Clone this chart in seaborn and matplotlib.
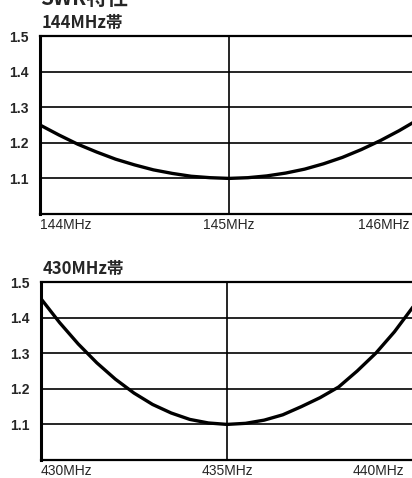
import matplotlib
matplotlib.use("Agg")
import matplotlib.pyplot as plt
import matplotlib.transforms as mtransforms
import seaborn as sns
import pandas as pd

# 144MHz帯
freq_144 = [144.0, 144.1, 144.2, 144.3, 144.4, 144.5, 144.6, 144.7, 144.8, 144.9, 145.0,
            145.1, 145.2, 145.3, 145.4, 145.5, 145.6, 145.7, 145.8, 145.9, 146.0]
swr_144 = [1.25, 1.222, 1.196, 1.174, 1.154, 1.138, 1.124, 1.114, 1.106, 1.102, 1.10,
           1.102, 1.107, 1.115, 1.126, 1.141, 1.159, 1.181, 1.206, 1.234, 1.265]
ticks_144 = [144, 145, 146]
labels_144 = ["144MHz", "145MHz", "146MHz"]

# 430MHz帯
freq_430 = [430.0, 430.5, 431.0, 431.5, 432.0, 432.5, 433.0, 433.5, 434.0, 434.5, 435.0,
            435.5, 436.0, 436.5, 437.0, 437.5, 438.0, 438.5, 439.0, 439.5, 440.0]
swr_430 = [1.453, 1.386, 1.326, 1.273, 1.227, 1.188, 1.156, 1.132, 1.114, 1.104, 1.10,
           1.103, 1.112, 1.127, 1.15, 1.175, 1.205, 1.25, 1.30, 1.36, 1.43]
ticks_430 = [430, 435, 440]
labels_430 = ["430MHz", "435MHz", "440MHz"]

yticks = [1.1, 1.2, 1.3, 1.4, 1.5]
ylabels = ["1.1", "1.2", "1.3", "1.4", "1.5"]

sns.set_theme(style="white")
plt.rcParams['font.family'] = ['Liberation Sans', 'Noto Sans CJK JP', 'DejaVu Sans']

fig = plt.figure(figsize=(4.12, 4.78), dpi=100)
W, H = 412, 478


def panel(rect_px, freq, swr, xlim, ticks, labels, title):
    x0, top, x1, bottom = rect_px
    ax = fig.add_axes([x0 / W, 1 - bottom / H, (x1 - x0) / W, (bottom - top) / H])
    df = pd.DataFrame({"f": freq, "swr": swr})
    sns.lineplot(data=df, x="f", y="swr", ax=ax, color="black", linewidth=2.4,
                 solid_joinstyle="round", zorder=5)
    ax.set_xlim(*xlim)
    ax.set_ylim(1.0, 1.5)
    for y in yticks[:-1]:
        ax.axhline(y, color="black", linewidth=1.2, zorder=2)
    ax.axvline(ticks[1], color="black", linewidth=1.2, zorder=2)
    ax.set_yticks(yticks)
    ax.set_yticklabels(ylabels, fontsize=10, fontweight="bold")
    ax.set_xticks(ticks)
    ax.set_xticklabels(labels, fontsize=10)
    ax.tick_params(length=0, pad=8)
    ax.tick_params(axis="x", pad=3)
    xl = ax.get_xticklabels()
    xl[0].set_ha("left")
    xl[1].set_ha("center")
    xl[2].set_ha("right")
    xl[2].set_transform(xl[2].get_transform() +
                        mtransforms.ScaledTranslation(-6 / 72, 0, fig.dpi_scale_trans))
    ax.set_xlabel("")
    ax.set_ylabel("")
    for s in ["left", "bottom", "top", "right"]:
        ax.spines[s].set_color("black")
    ax.spines["left"].set_linewidth(2.2)
    ax.spines["bottom"].set_linewidth(1.6)
    ax.spines["top"].set_linewidth(1.6)
    ax.spines["right"].set_visible(False)
    fig.text(x0 / W + 0.003, 1 - (top - 4) / H, title, fontsize=12, fontweight="bold",
             family=['Noto Sans CJK JP'], ha="left", va="bottom")
    return ax


panel((40, 36, 418, 214), freq_144, swr_144, (144, 146), ticks_144, labels_144, "144MHz帯")
panel((41, 282, 413, 460), freq_430, swr_430, (430, 440), ticks_430, labels_430, "430MHz帯")

# heading cut off by the top edge, as in the scan
fig.text(40 / W, 1 - 9 / H, "SWR特性", fontsize=15, fontweight="bold",
         family=['Noto Sans CJK JP'], ha="left", va="bottom")

fig.savefig("out.png", dpi=100)
